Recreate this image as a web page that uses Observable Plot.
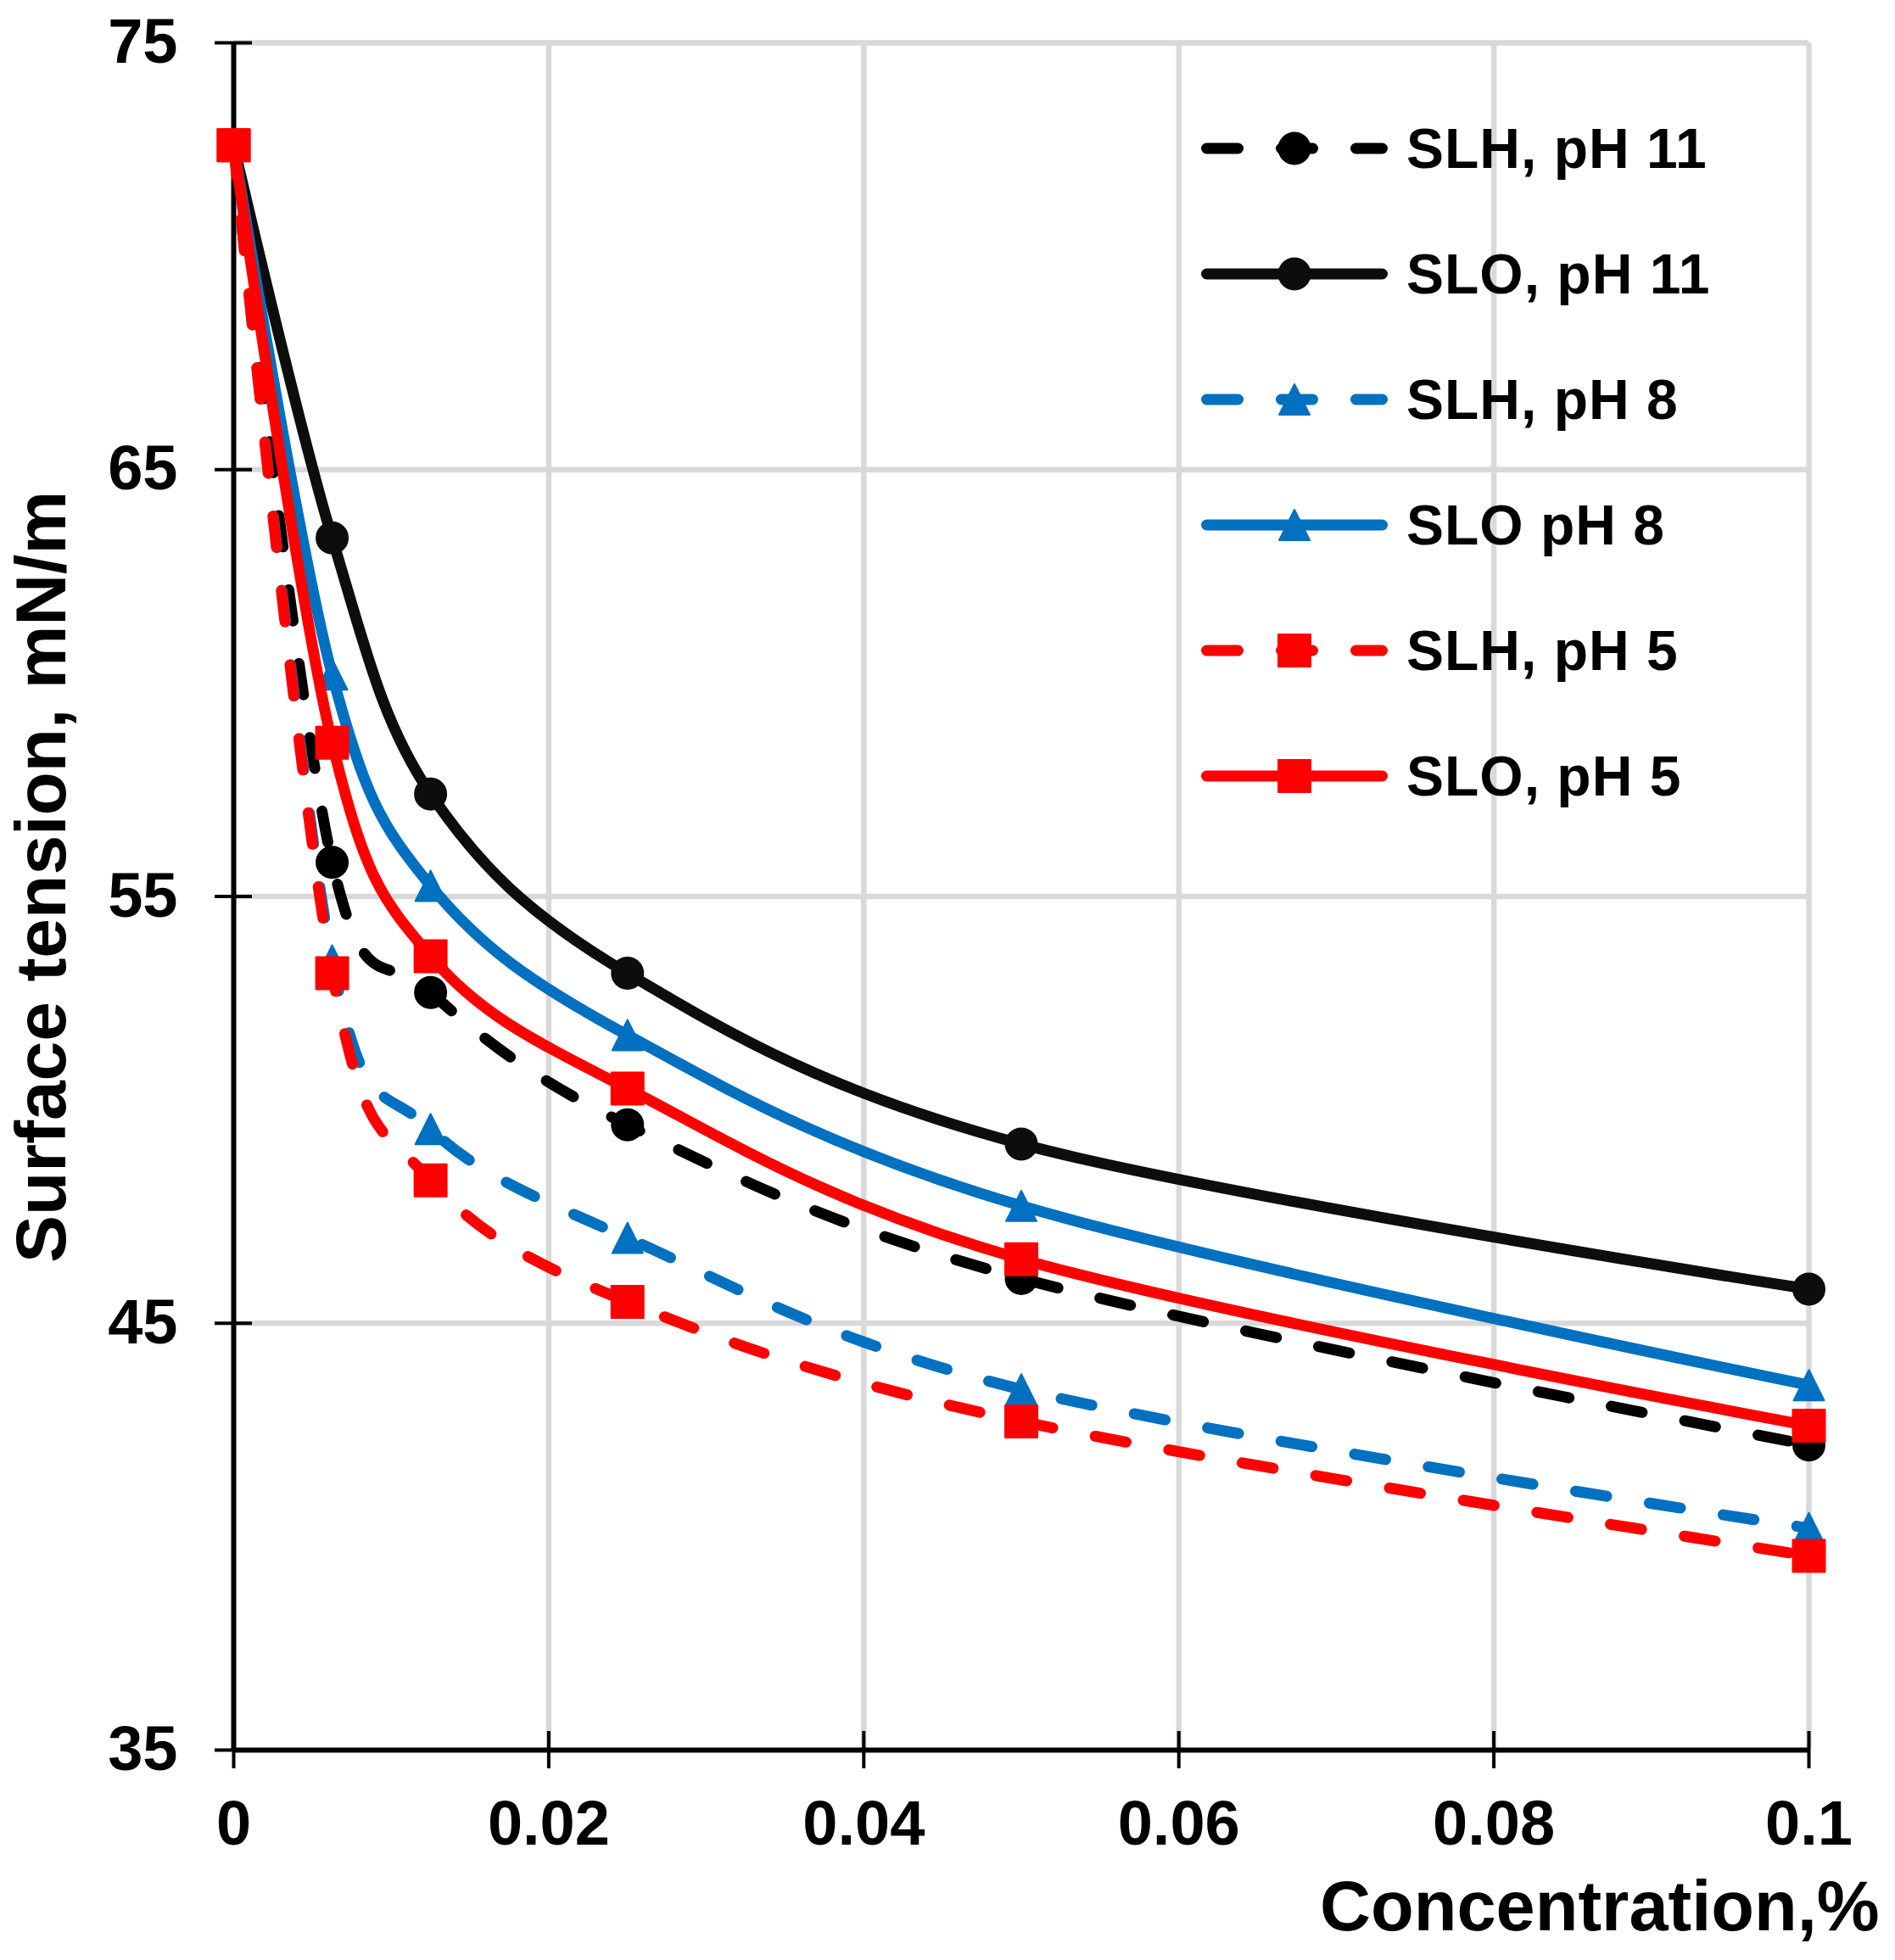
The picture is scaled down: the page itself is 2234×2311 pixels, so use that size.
<!DOCTYPE html>
<html>
<head>
<meta charset="utf-8">
<script src="https://cdn.jsdelivr.net/npm/d3@7"></script>
<script src="https://cdn.jsdelivr.net/npm/@observablehq/plot@0.6"></script>
<style>
  body { margin: 0; background: #fff; }
  #wrap { position: relative; width: 2234px; height: 2311px; overflow: hidden; }
  #legend { position: absolute; left: 0; top: 0; pointer-events: none; }
</style>
</head>
<body>
<div id="wrap"></div>
<script>
// ---- data ----
const conc = [0, 0.00625, 0.0125, 0.025, 0.05, 0.1];
const slh11 = [72.6, 55.8, 52.75, 49.65, 46.05, 42.15];
const slo11 = [72.6, 63.4, 57.4, 53.2, 49.2, 45.8];
const slh8  = [72.6, 53.5, 49.55, 47.0, 43.45, 40.2];
const slo8  = [72.6, 60.2, 55.25, 51.75, 47.75, 43.55];
const slh5  = [72.6, 53.2, 48.35, 45.5, 42.7, 39.55];
const slo5  = [72.6, 58.6, 53.6, 50.5, 46.5, 42.6];
const seriesNames = ["SLH, pH 11", "SLO, pH 11", "SLH, pH 8", "SLO pH 8", "SLH, pH 5", "SLO, pH 5"];
const seriesValues = [slh11, slo11, slh8, slo8, slh5, slo5];
const seriesColors = ["#000000", "#0d0d0d", "#0070c0", "#0070c0", "#ff0000", "#ff0000"];
const seriesDashed = [true, false, true, false, true, false];
const seriesSymbols = ["circle", "circle", "triangle", "triangle", "square", "square"];
const xTicks = [0, 0.02, 0.04, 0.06, 0.08, 0.1];
const yTicks = [35, 45, 55, 65, 75];
const xTitle = "Concentration,%";
const yTitle = "Surface tension, mN/m";

// ---- styling ----
const FONT = "'Liberation Sans', Arial, Helvetica, sans-serif";
// Excel-like triangle: as tall as it is wide
const excelTriangle = {
  draw(context, size) {
    const h = Math.sqrt(size / Math.PI); // half-extent
    context.moveTo(0, -h);
    context.lineTo(h, h);
    context.lineTo(-h, h);
    context.closePath();
  }
};
const symbolR = {circle: 18.5, triangle: 18, square: 19};
const symbolType = {circle: d3.symbolCircle, triangle: excelTriangle, square: d3.symbolSquare};
const symbolSize = {circle: Math.PI * 18.5 * 18.5, triangle: Math.PI * 18 * 18, square: 38 * 38};
const DASH = "37,51";
const LINE_W = 13;
const GRID = "#d9d9d9";

const marks = [
  Plot.gridY(yTicks.filter(v => v > 35), {stroke: GRID, strokeOpacity: 1, strokeWidth: 6.5}),
  Plot.gridX(xTicks.filter(v => v > 0), {stroke: GRID, strokeOpacity: 1, strokeWidth: 6.5}),
  Plot.ruleX([0], {stroke: "black", strokeWidth: 6}),
  Plot.ruleY([35], {stroke: "black", strokeWidth: 6}),
  // crossing tick marks
  Plot.axisY({ticks: yTicks, tickSize: 44, dx: 22, tickFormat: () => "", label: null, strokeWidth: 4, stroke: "black"}),
  Plot.axisX({ticks: xTicks, tickSize: 44, dy: -22, tickFormat: () => "", label: null, strokeWidth: 4, stroke: "black"}),
  // tick labels
  Plot.axisY({ticks: yTicks, tickSize: 0, tickPadding: 66, tickFormat: d => String(d), label: null,
    fontSize: 74, fontWeight: "bold", fill: "black"}),
  Plot.axisX({ticks: xTicks, tickSize: 0, tickPadding: 59, tickFormat: d => String(d), label: null,
    fontSize: 74, fontWeight: "bold", fill: "black"}),
  // axis titles
  Plot.text([xTitle], {frameAnchor: "bottom-right", text: d => d, textAnchor: "end", lineAnchor: "top",
    dx: 83, dy: 154, fontSize: 83, fontWeight: "bold", fill: "black"}),
  Plot.text([yTitle], {frameAnchor: "left", text: d => d, textAnchor: "middle", lineAnchor: "top",
    rotate: -90, dx: -258, dy: -23, fontSize: 84, fontWeight: "bold", fill: "black"})
];

seriesNames.forEach((name, i) => {
  const pts = conc.map((c, j) => ({x: c, y: seriesValues[i][j], series: name}));
  marks.push(Plot.line(pts, {
    x: "x", y: "y", stroke: seriesColors[i], strokeWidth: LINE_W, curve: "cardinal",
    strokeDasharray: seriesDashed[i] ? DASH : null, strokeLinecap: "round", strokeLinejoin: "round"
  }));
  const sym = seriesSymbols[i];
  marks.push(Plot.dot(pts, {
    x: "x", y: "y", symbol: symbolType[sym], r: Math.sqrt(symbolSize[sym] / Math.PI),
    fill: seriesColors[i], stroke: seriesColors[i], strokeWidth: 2, strokeLinejoin: "round"
  }));
});

const chart = Plot.plot({
  width: 2234, height: 2311,
  marginLeft: 275, marginRight: 102, marginTop: 50, marginBottom: 248,
  x: {domain: [0, 0.1]},
  y: {domain: [35, 75]},
  style: {fontFamily: FONT, background: "white", color: "black", overflow: "visible"},
  marks
});
const wrap = document.getElementById("wrap");
wrap.appendChild(chart);

// ---- legend (overlay) ----
const legendTop = 175, legendStep = 148, lineX1 = 1422.5, lineX2 = 1629.5, markX = 1526, textX = 1658;
const lg = d3.create("svg").attr("id", "legend").attr("width", 2234).attr("height", 2311);
seriesNames.forEach((name, i) => {
  const y = legendTop + i * legendStep;
  const g = lg.append("g");
  g.append("line").attr("x1", lineX1).attr("x2", lineX2).attr("y1", y).attr("y2", y)
    .attr("stroke", seriesColors[i]).attr("stroke-width", LINE_W).attr("stroke-linecap", "round")
    .attr("stroke-dasharray", seriesDashed[i] ? DASH : null);
  const sym = seriesSymbols[i];
  g.append("path").attr("transform", `translate(${markX},${y})`)
    .attr("d", d3.symbol(symbolType[sym], symbolSize[sym])())
    .attr("fill", seriesColors[i]).attr("stroke", seriesColors[i]).attr("stroke-width", 2)
    .attr("stroke-linejoin", "round");
  g.append("text").attr("x", textX).attr("y", y + 23).text(name)
    .attr("font-family", FONT).attr("font-weight", "bold").attr("font-size", 66)
    .attr("letter-spacing", 1).attr("fill", "black");
});
wrap.appendChild(lg.node());
</script>
</body>
</html>
